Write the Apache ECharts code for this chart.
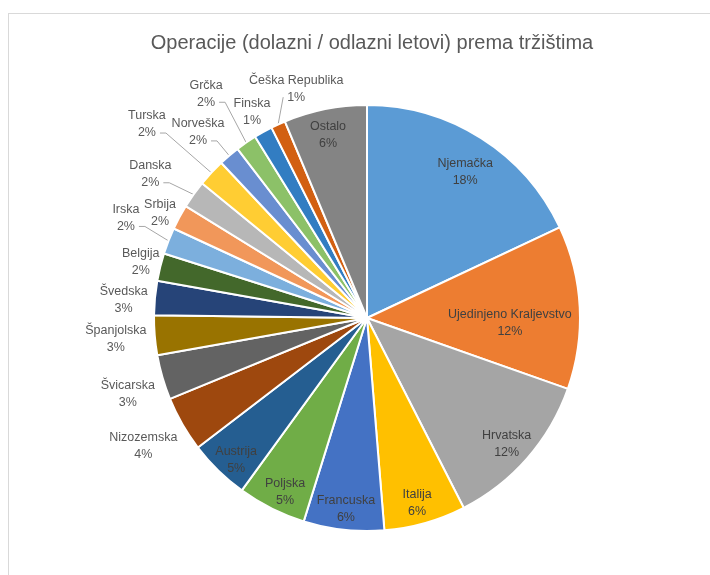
<!DOCTYPE html>
<html>
<head>
<meta charset="utf-8">
<script src="https://cdn.jsdelivr.net/npm/echarts@6/dist/echarts.min.js"></script>
<style>
  html, body { margin: 0; padding: 0; background: #fff; overflow: hidden; }
  #frame { position: absolute; left: 8px; top: 13px; width: 800px; height: 700px; border: 1px solid #d9d9d9; }
  #chart { position: absolute; left: 0; top: 0; width: 710px; height: 575px; }
</style>
</head>
<body>
<div id="frame"></div>
<div id="chart"></div>
<script>
const titleText = 'Operacije (dolazni / odlazni letovi) prema tržištima'
const markets = ['Njemačka', 'Ujedinjeno Kraljevstvo', 'Hrvatska', 'Italija', 'Francuska', 'Poljska', 'Austrija',
  'Nizozemska', 'Švicarska', 'Španjolska', 'Švedska', 'Belgija', 'Irska', 'Srbija', 'Danska', 'Turska',
  'Norveška', 'Grčka', 'Finska', 'Češka Republika', 'Ostalo']
const shares = [18.0, 12.4, 12.1, 6.2, 6.1, 5.2, 4.6, 4.2, 3.4, 3.0, 2.6, 2.1, 2.0, 1.9, 2.1, 2.1, 1.6, 1.6, 1.4, 1.1, 6.3]
const sliceColors = ['#5B9BD5', '#ED7D31', '#A5A5A5', '#FFC000', '#4472C4', '#70AD47', '#255E91',
  '#9E480E', '#636363', '#997300', '#264478', '#43682B', '#7CAFDD', '#F1975A', '#B7B7B7', '#FFCD33',
  '#698ED0', '#8CC168', '#327DC2', '#D26012', '#848484']

// where each label sits: distance from the centre (px) and a small turn (deg) off the slice middle
const labelRadius = [176, 143, 188, 192, 192, 192, 193, 258, 251, 252, 244, 233, 261, 232, 260, 293, 251, 276, 236, 240, 187]
const labelTurn = [1.5, 5, 0.8, 0.7, 0, -1.4, -1.6, 0, -1.4, 0, -1.2, 0, 1.3, -1.4, -1.9, -1.7, -2, -1.1, 0, 7.5, -0.7]
const insideLabels = ['Njemačka', 'Ujedinjeno Kraljevstvo', 'Hrvatska', 'Italija', 'Francuska', 'Poljska', 'Austrija', 'Ostalo']
const leaderLines = ['Irska', 'Danska', 'Turska', 'Norveška', 'Grčka', 'Češka Republika']

const cx = 367, cy = 318, r = 213
const font = 'Liberation Sans, Arial, sans-serif'
const lineH = 17

const total = shares.reduce((a, b) => a + b, 0)
const midAngle = []
let acc = 0
shares.forEach(v => { midAngle.push((acc + v / 2) / total * 360); acc += v })

const chart = echarts.init(document.getElementById('chart'))
chart.setOption({
  animation: false,
  title: {
    text: titleText,
    left: cx,
    top: 28,
    textAlign: 'center',
    textStyle: { fontFamily: font, fontSize: 20, fontWeight: 'normal', color: '#595959' }
  },
  series: [{
    type: 'pie',
    center: [cx, cy],
    radius: r,
    startAngle: 90,
    clockwise: true,
    avoidLabelOverlap: false,
    emphasis: { disabled: true },
    itemStyle: { borderColor: '#fff', borderWidth: 2 },
    label: {
      fontFamily: font,
      fontSize: 12.5,
      lineHeight: lineH,
      overflow: 'none',
      formatter: p => p.name + '\n' + Math.round(p.percent) + '%'
    },
    labelLine: { lineStyle: { color: '#A6A6A6', width: 1 } },
    labelLayout: function (params) {
      const i = params.dataIndex
      const a = (midAngle[i] + labelTurn[i]) * Math.PI / 180
      const x = cx + labelRadius[i] * Math.sin(a)
      const y = cy - labelRadius[i] * Math.cos(a)
      const out = { x: x, y: y, align: 'center', verticalAlign: 'middle' }
      if (leaderLines.indexOf(markets[i]) >= 0) {
        // from the slice rim to the side of the percent line
        const m = midAngle[i] * Math.PI / 180
        const ex = cx + r * Math.sin(m), ey = cy - r * Math.cos(m)
        const side = ex > x ? 1 : -1
        const ax = x + side * 13, ay = y + lineH / 2
        const bx = Math.abs(ex - ax) > 12 ? ax + side * 6 : ax
        out.labelLinePoints = [[ex, ey], [bx, ay], [ax, ay]]
      }
      return out
    },
    data: markets.map((name, i) => {
      const inside = insideLabels.indexOf(name) >= 0
      return {
        name: name,
        value: shares[i],
        itemStyle: { color: sliceColors[i] },
        label: { position: inside ? 'inside' : 'outside', color: inside ? '#404040' : '#595959' },
        labelLine: { show: leaderLines.indexOf(name) >= 0 }
      }
    })
  }]
})
</script>
</body>
</html>
